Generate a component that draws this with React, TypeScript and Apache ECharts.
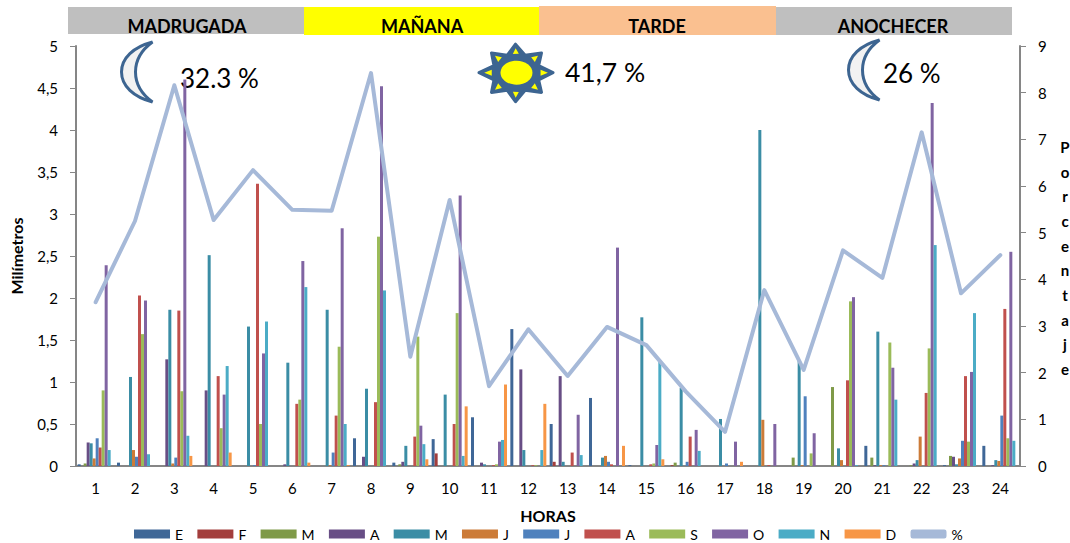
import React, { useEffect, useRef } from "react";
import * as echarts from "echarts";

const horas = Array.from({ length: 24 }, (_, i) => String(i + 1));
const ene = [.02,.04,0,0,0,0,0,.33,.04,.32,.58,1.63,.5,.81,.01,0,0,0,0,0,.24,0,.01,.24];
const feb = [0,0,0,0,0,0,0,0,0,.15,0,0,.05,0,0,.01,0,0,0,0,0,0,0,0];
const mar = [.03,0,0,0,0,0,0,0,.02,0,0,0,0,0,0,.04,0,0,.1,.94,.1,.01,.12,0];
const abr = [.28,0,1.27,.9,0,.02,0,.11,.05,0,.04,1.15,1.07,0,0,0,0,0,0,0,.01,.03,.11,.01];
const may = [.27,1.06,1.86,2.51,1.66,1.23,1.86,.92,.24,.85,.02,.19,.05,.1,1.77,.93,.56,4,1.25,.21,1.6,.07,.02,.07];
const jun = [.09,.19,.03,0,0,0,.01,0,0,0,0,0,0,.12,0,0,0,.55,.01,.07,.01,.35,.09,.06];
const jul = [.33,.11,.1,0,.01,0,.16,0,0,0,0,0,0,.05,0,.05,.03,0,.83,0,.01,0,.3,.6];
const ago = [.22,2.03,1.85,1.07,3.36,.74,.6,.76,.35,.5,.01,.01,.16,.02,.02,.35,0,.01,0,1.02,0,.87,1.07,1.87];
const sep = [.9,1.57,.89,.45,.5,.79,1.42,2.73,1.54,1.82,.02,.01,0,0,.03,0,0,0,.15,1.96,1.47,1.4,.29,.33];
const oct = [2.39,1.97,4.6,.85,1.34,2.44,2.83,4.52,.48,3.22,.29,0,.61,2.6,.25,.43,.29,.5,.39,2.01,1.17,4.32,1.12,2.55];
const nov = [.19,.14,.36,1.19,1.72,2.13,.5,2.09,.26,.12,.31,.19,.13,0,1.24,.18,0,0,0,.01,.79,2.63,1.82,.3];
const dic = [0,0,.12,.16,0,.04,.01,0,.08,.71,.97,.74,0,.24,.08,0,.05,0,0,0,0,0,0,0];
const porcentaje = [3.51,5.25,8.16,5.27,6.34,5.49,5.47,8.42,2.34,5.7,1.71,2.93,1.93,2.98,2.59,1.6,.73,3.77,2.06,4.62,4.03,7.15,3.7,4.52];

const monthNames = ["Ene","Feb","Mar","Abr","May","Jun","Jul","Ago","Sep","Oct","Nov","Dic"];
const monthValues = [ene,feb,mar,abr,may,jun,jul,ago,sep,oct,nov,dic];
const monthColors = ["#3F6797","#A33E3C","#7F9A48","#684E85","#3B8DA5","#CC7B38","#4F81BD","#C0504D","#9BBB59","#8064A2","#4BACC6","#F79646"];
const bands = [
  { label: "MADRUGADA", color: "#BFBFBF", x: 68, w: 236, y: 7, h: 27, tx: 187 },
  { label: "MAÑANA", color: "#FFFF00", x: 304, w: 235, y: 7, h: 28, tx: 422 },
  { label: "TARDE", color: "#FAC090", x: 539, w: 237, y: 6, h: 29, tx: 657 },
  { label: "ANOCHECER", color: "#BFBFBF", x: 776, w: 236, y: 7, h: 28, tx: 893 },
];
const font = "Lato";
const axisGray = "#868686";
const blue = "#3D6591";
const moonPath = "M31 0 C12 5 0 16 0 30 C0 44 12 55 31 60 C20 52 14 42 14 30 C14 18 20 8 31 0 Z";
const sunCenter = [516.5, 72.7];
const sunTips = [[-1,-28.5],[25,-19.7],[36.5,0],[25,19.7],[-1,29],[-25,19.7],[-37.5,0],[-25,-19.7]];

echarts.graphic.registerShape("moon", echarts.graphic.extendPath(moonPath, {}) as any);

export default function App() {
  const ref = useRef<HTMLDivElement>(null);
  useEffect(() => {
    const chart = echarts.init(ref.current!, undefined, { renderer: "svg" });
    const [cx, cy] = sunCenter;
    const star: number[][] = [];
    sunTips.forEach((t, i) => {
      const n = sunTips[(i + 1) % sunTips.length];
      star.push([cx + t[0], cy + t[1]]);
      star.push([cx + (t[0] + n[0]) * 0.36, cy + (t[1] + n[1]) * 0.36]);
    });
    const wedges = sunTips.map((t) => {
      const len = Math.hypot(t[0], t[1]);
      const px = (-t[1] / len) * 3, py = (t[0] / len) * 3;
      return {
        type: "polygon", shape: { points: [
          [cx + t[0] * 0.86, cy + t[1] * 0.86],
          [cx + t[0] * 0.66 + px, cy + t[1] * 0.66 + py],
          [cx + t[0] * 0.66 - px, cy + t[1] * 0.66 - py],
        ] }, style: { fill: "#FFFF00" },
      };
    });
    const bar = monthNames.map((name, i) => ({
      name, type: "bar", data: monthValues[i], barWidth: 3, barGap: "0%",
      itemStyle: { color: monthColors[i] },
    }));
    chart.setOption({
      animation: false,
      textStyle: { fontFamily: font },
      grid: { left: 75, right: 50, top: 46, bottom: 77 },
      legend: {
        left: 129, top: 522, itemWidth: 36, itemHeight: 9, itemGap: 14.3, icon: "rect",
        data: [...monthNames, { name: "%", icon: "roundRect" }],
        formatter: (n: string) => n.charAt(0),
        textStyle: { fontFamily: font, fontSize: 14, color: "#000" },
      },
      xAxis: {
        type: "category", data: horas,
        name: "HORAS", nameLocation: "middle", nameGap: 41,
        nameTextStyle: { fontFamily: font, fontWeight: "bold", fontSize: 16, color: "#000" },
        axisLine: { lineStyle: { color: axisGray, width: 2 } },
        axisTick: { length: 5, lineStyle: { color: axisGray, width: 1 } },
        axisLabel: { color: "#000", fontSize: 15, fontFamily: font, margin: 14 },
      },
      yAxis: [
        {
          type: "value", min: 0, max: 5, interval: 0.5,
          name: "Milímetros", nameLocation: "middle", nameGap: 52, nameRotate: 90,
          nameTextStyle: { fontFamily: font, fontWeight: "bold", fontSize: 16, color: "#000" },
          axisLine: { show: true, lineStyle: { color: axisGray, width: 2 } },
          axisTick: { show: true, length: 6, lineStyle: { color: axisGray } },
          splitLine: { show: false },
          axisLabel: { color: "#000", fontSize: 15, fontFamily: font, margin: 18, formatter: (v: number) => String(v).replace(".", ",") },
        },
        {
          type: "value", min: 0, max: 9, interval: 1, position: "right",
          axisLine: { show: true, lineStyle: { color: axisGray, width: 2 } },
          axisTick: { show: true, length: 6, lineStyle: { color: axisGray } },
          splitLine: { show: false },
          axisLabel: { color: "#000", fontSize: 15, fontFamily: font, margin: 18 },
        },
      ],
      series: [
        ...bar,
        {
          name: "%", type: "line", yAxisIndex: 1, data: porcentaje, showSymbol: false, symbol: "none", z: 5,
          lineStyle: { color: "#A6B9D8", width: 4, join: "round", cap: "round" },
          itemStyle: { color: "#A6B9D8" },
        },
      ],
      graphic: [
        ...bands.flatMap((b) => [
          { type: "rect", silent: true, shape: { x: b.x, y: b.y, width: b.w, height: b.h }, style: { fill: b.color } },
          { type: "text", silent: true, x: b.tx, y: 25.5, style: { text: b.label, fill: "#000", font: `bold 18px ${font}`, textAlign: "center", textVerticalAlign: "middle" } },
        ]),
        { type: "moon", x: 121.5, y: 42, style: { fill: "#F2F2F2", stroke: blue, lineWidth: 3 } },
        { type: "moon", x: 848.5, y: 40, style: { fill: "#F2F2F2", stroke: blue, lineWidth: 3 } },
        { type: "polygon", shape: { points: star }, style: { fill: blue, stroke: blue, lineWidth: 3, lineJoin: "round" } },
        ...wedges,
        { type: "ellipse", shape: { cx, cy, rx: 16, ry: 12 }, style: { fill: "#FFFF00" } },
        { type: "text", x: 180, y: 78, style: { text: "32.3 %", fill: "#000", font: `26px ${font}`, textVerticalAlign: "middle" } },
        { type: "text", x: 565, y: 72, style: { text: "41,7 %", fill: "#000", font: `26.5px ${font}`, textVerticalAlign: "middle" } },
        { type: "text", x: 883, y: 73, style: { text: "26 %", fill: "#000", font: `26px ${font}`, textVerticalAlign: "middle" } },
        { type: "text", x: 1065, y: 258, style: { text: "P\no\nr\nc\ne\nn\nt\na\nj\ne", fill: "#000", font: `bold 15px ${font}`, lineHeight: 24.7, textAlign: "center", textVerticalAlign: "middle" } },
      ],
    });
    return () => chart.dispose();
  }, []);
  return <div ref={ref} style={{ position: "absolute", left: 0, top: 0, width: 1070, height: 543 }} />;
}
